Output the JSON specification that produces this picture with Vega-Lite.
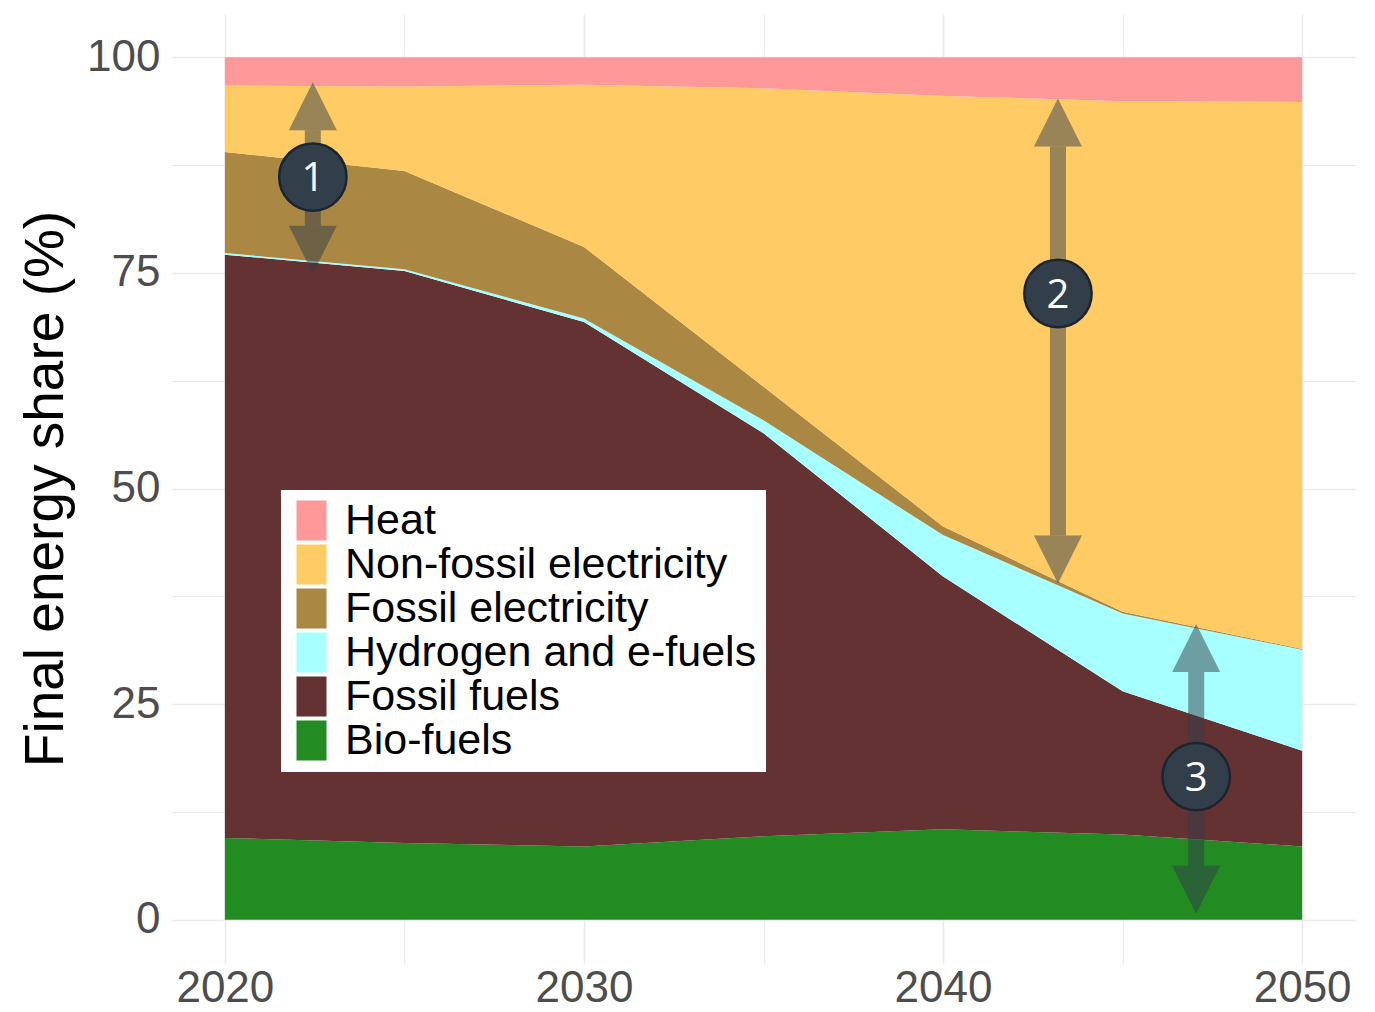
{
  "$schema": "https://vega.github.io/schema/vega-lite/v6.json",
  "width": 1185,
  "height": 949,
  "autosize": {"type": "none"},
  "padding": {"left": 171, "top": 14, "right": 19, "bottom": 49},
  "background": "white",
  "config": {"view": {"stroke": null}, "font": "Liberation Sans"},
  "datasets": {
    "energy": [
      {"year": 2020, "source": "Bio-fuels", "share": 9.5},
      {"year": 2020, "source": "Fossil fuels", "share": 67.6},
      {"year": 2020, "source": "Hydrogen and e-fuels", "share": 0.2},
      {"year": 2020, "source": "Fossil electricity", "share": 11.7},
      {"year": 2020, "source": "Non-fossil electricity", "share": 7.7},
      {"year": 2020, "source": "Heat", "share": 3.3},
      {"year": 2025, "source": "Bio-fuels", "share": 8.9},
      {"year": 2025, "source": "Fossil fuels", "share": 66.3},
      {"year": 2025, "source": "Hydrogen and e-fuels", "share": 0.2},
      {"year": 2025, "source": "Fossil electricity", "share": 11.4},
      {"year": 2025, "source": "Non-fossil electricity", "share": 9.8},
      {"year": 2025, "source": "Heat", "share": 3.4},
      {"year": 2030, "source": "Bio-fuels", "share": 8.5},
      {"year": 2030, "source": "Fossil fuels", "share": 60.8},
      {"year": 2030, "source": "Hydrogen and e-fuels", "share": 0.4},
      {"year": 2030, "source": "Fossil electricity", "share": 8.3},
      {"year": 2030, "source": "Non-fossil electricity", "share": 18.8},
      {"year": 2030, "source": "Heat", "share": 3.2},
      {"year": 2035, "source": "Bio-fuels", "share": 9.7},
      {"year": 2035, "source": "Fossil fuels", "share": 46.7},
      {"year": 2035, "source": "Hydrogen and e-fuels", "share": 1.5},
      {"year": 2035, "source": "Fossil electricity", "share": 3.9},
      {"year": 2035, "source": "Non-fossil electricity", "share": 34.6},
      {"year": 2035, "source": "Heat", "share": 3.6},
      {"year": 2040, "source": "Bio-fuels", "share": 10.5},
      {"year": 2040, "source": "Fossil fuels", "share": 29.3},
      {"year": 2040, "source": "Hydrogen and e-fuels", "share": 4.8},
      {"year": 2040, "source": "Fossil electricity", "share": 1.0},
      {"year": 2040, "source": "Non-fossil electricity", "share": 49.9},
      {"year": 2040, "source": "Heat", "share": 4.5},
      {"year": 2045, "source": "Bio-fuels", "share": 9.9},
      {"year": 2045, "source": "Fossil fuels", "share": 16.6},
      {"year": 2045, "source": "Hydrogen and e-fuels", "share": 9.0},
      {"year": 2045, "source": "Fossil electricity", "share": 0.2},
      {"year": 2045, "source": "Non-fossil electricity", "share": 59.2},
      {"year": 2045, "source": "Heat", "share": 5.1},
      {"year": 2050, "source": "Bio-fuels", "share": 8.5},
      {"year": 2050, "source": "Fossil fuels", "share": 11.1},
      {"year": 2050, "source": "Hydrogen and e-fuels", "share": 11.7},
      {"year": 2050, "source": "Fossil electricity", "share": 0.1},
      {"year": 2050, "source": "Non-fossil electricity", "share": 63.4},
      {"year": 2050, "source": "Heat", "share": 5.2}
    ],
    "arrows": [
      {"label": "1", "year": 2022.45, "top": 97.1, "bottom": 74.9, "mid": 86.1},
      {"label": "2", "year": 2043.2, "top": 95.2, "bottom": 39.0, "mid": 72.6},
      {"label": "3", "year": 2047.05, "top": 34.3, "bottom": 0.7, "mid": 16.6}
    ]
  },
  "layer": [
    {
      "data": {"name": "energy"},
      "transform": [
        {"calculate": "indexof(['Bio-fuels','Fossil fuels','Hydrogen and e-fuels','Fossil electricity','Non-fossil electricity','Heat'], datum.source)", "as": "stackrank"}
      ],
      "mark": {"type": "area", "interpolate": "linear", "opacity": 1},
      "encoding": {
        "x": {
          "field": "year", "type": "quantitative", "title": null,
          "scale": {"domain": [2018.5, 2051.5], "nice": false, "zero": false},
          "axis": {
            "values": [2020, 2025, 2030, 2035, 2040, 2045, 2050],
            "format": "d",
            "labelExpr": "datum.value % 10 == 0 ? datum.label : ''",
            "ticks": false, "domain": false,
            "grid": true, "gridColor": "#ebebeb",
            "gridWidth": {"condition": {"test": "datum.value % 10 == 0", "value": 1.6}, "value": 1},
            "labelFontSize": 44, "labelColor": "#4d4d4d", "labelPadding": 3,
            "labelFont": "Liberation Sans", "labelFlush": false, "labelOverlap": false
          }
        },
        "y": {
          "field": "share", "type": "quantitative", "stack": "zero",
          "title": "Final energy share (%)",
          "scale": {"domain": [-5, 105], "nice": false, "zero": false},
          "axis": {
            "values": [0, 12.5, 25, 37.5, 50, 62.5, 75, 87.5, 100],
            "labelExpr": "datum.value % 25 == 0 ? datum.label : ''",
            "ticks": false, "domain": false,
            "grid": true, "gridColor": "#ebebeb",
            "gridWidth": {"condition": {"test": "datum.value % 25 == 0", "value": 1.6}, "value": 1},
            "labelFontSize": 44, "labelColor": "#4d4d4d", "labelPadding": 11,
            "labelFont": "Liberation Sans", "labelOverlap": false,
            "titleFontSize": 55, "titleFontWeight": "normal", "titleColor": "black",
            "titleFont": "Liberation Sans", "titlePadding": 12
          }
        },
        "color": {
          "field": "source", "type": "nominal",
          "scale": {
            "domain": ["Heat", "Non-fossil electricity", "Fossil electricity", "Hydrogen and e-fuels", "Fossil fuels", "Bio-fuels"],
            "range": ["#ff9999", "#fecb65", "#aa8742", "#a8ffff", "#643233", "#228b22"]
          },
          "legend": {
            "title": null, "orient": "none", "legendX": 110, "legendY": 476,
            "labelFontSize": 43, "labelColor": "black", "labelFont": "Liberation Sans",
            "symbolType": "M-0.79,-1.05L0.79,-1.05L0.79,1.05L-0.79,1.05Z", "symbolSize": 1444,
            "symbolStrokeWidth": 0, "symbolOpacity": 1,
            "fillColor": "white", "padding": 9, "rowPadding": 0, "labelOffset": 12,
            "cornerRadius": 0, "labelLimit": 600
          }
        },
        "order": {"field": "stackrank", "type": "quantitative"}
      }
    },
    {
      "data": {"name": "arrows"},
      "mark": {"type": "rule", "strokeWidth": 16, "color": "#323e4a", "opacity": 0.5, "yOffset": 48, "y2Offset": -48, "strokeCap": "butt"},
      "encoding": {
        "x": {"field": "year", "type": "quantitative", "title": null},
        "y": {"field": "top", "type": "quantitative", "title": "Final energy share (%)"},
        "y2": {"field": "bottom"}
      }
    },
    {
      "data": {"name": "arrows"},
      "mark": {"type": "point", "shape": "M0,0L1,2L-1,2Z", "filled": true, "size": 2304, "color": "#323e4a", "opacity": 0.5, "strokeWidth": 0},
      "encoding": {
        "x": {"field": "year", "type": "quantitative", "title": null},
        "y": {"field": "top", "type": "quantitative", "title": "Final energy share (%)"}
      }
    },
    {
      "data": {"name": "arrows"},
      "mark": {"type": "point", "shape": "M0,0L1,-2L-1,-2Z", "filled": true, "size": 2304, "color": "#323e4a", "opacity": 0.5, "strokeWidth": 0},
      "encoding": {
        "x": {"field": "year", "type": "quantitative", "title": null},
        "y": {"field": "bottom", "type": "quantitative", "title": "Final energy share (%)"}
      }
    },
    {
      "data": {"name": "arrows"},
      "mark": {"type": "point", "shape": "circle", "filled": true, "size": 4536, "fill": "#323e4a", "stroke": "#1c252e", "strokeWidth": 2.5, "opacity": 1},
      "encoding": {
        "x": {"field": "year", "type": "quantitative", "title": null},
        "y": {"field": "mid", "type": "quantitative", "title": "Final energy share (%)"}
      }
    },
    {
      "data": {"name": "arrows"},
      "mark": {"type": "text", "color": "white", "fontSize": 40, "font": "Open Sans", "baseline": "middle", "align": "center", "dy": 2},
      "encoding": {
        "x": {"field": "year", "type": "quantitative", "title": null},
        "y": {"field": "mid", "type": "quantitative", "title": "Final energy share (%)"},
        "text": {"field": "label"}
      }
    }
  ]
}
